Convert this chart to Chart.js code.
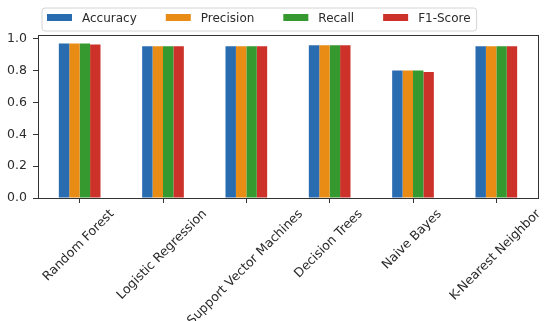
<!DOCTYPE html>
<html>
<head>
<meta charset="utf-8">
<script src="https://cdn.jsdelivr.net/npm/chart.js@4.4.1/dist/chart.umd.min.js"></script>
<style>
  html, body { margin: 0; padding: 0; background: #ffffff; }
  #wrap { width: 550px; height: 321px; position: relative; }
</style>
</head>
<body>
<div id="wrap"><canvas id="c" width="550" height="321"></canvas></div>
<script>
const categories = ['Random Forest', 'Logistic Regression', 'Support Vector Machines', 'Decision Trees', 'Naive Bayes', 'K-Nearest Neighbor'];
const seriesNames = ['Accuracy', 'Precision', 'Recall', 'F1-Score'];
const accuracy  = [0.972, 0.955, 0.955, 0.960, 0.802, 0.955];
const precision = [0.972, 0.955, 0.955, 0.960, 0.802, 0.955];
const recall    = [0.972, 0.955, 0.955, 0.960, 0.802, 0.955];
const f1Score   = [0.966, 0.955, 0.955, 0.960, 0.793, 0.955];
const yTicks = [0.0, 0.2, 0.4, 0.6, 0.8, 1.0];

const colors = ['#2a6cb0', '#e98c16', '#36992f', '#cc3229'];
const FONT = '"DejaVu Sans", sans-serif';
const TEXT = '#2b2b2b';

const series = [accuracy, precision, recall, f1Score];

const framePlugin = {
  id: 'frame',
  afterDraw(chart) {
    const ctx = chart.ctx;
    const a = chart.chartArea;
    ctx.save();
    ctx.strokeStyle = '#333333';
    ctx.lineWidth = 1;
    ctx.strokeRect(Math.round(a.left) + 0.5, Math.round(a.top) + 0.5,
                   Math.round(a.right - a.left), Math.round(a.bottom - a.top));

    // rotated x tick labels, centered on tick (matplotlib style)
    const xs = chart.scales.x;
    ctx.font = '12.6px ' + FONT;
    ctx.fillStyle = TEXT;
    ctx.textAlign = 'center';
    ctx.textBaseline = 'middle';
    const top = a.bottom + 9;
    const h = 14;
    categories.forEach((lab, i) => {
      const x = xs.getPixelForTick(i) - 1;
      const w = ctx.measureText(lab).width;
      const W = (w + h) * Math.SQRT1_2;
      ctx.save();
      ctx.translate(x, top + W / 2);
      ctx.rotate(-Math.PI / 4);
      ctx.fillText(lab, 0, 0);
      ctx.restore();
    });

    // legend with frame
    ctx.font = '12px ' + FONT;
    const sw = 25, gap = 10, spacing = 29, pad = 5;
    let x = 42 + pad;
    const items = chart.data.datasets.map(d => ({ label: d.label, color: d.backgroundColor }));
    let total = pad;
    items.forEach((it, i) => {
      total += sw + gap + ctx.measureText(it.label).width + (i < items.length - 1 ? spacing : 0);
    });
    total += pad + 1;
    const fx = 42, fy = 8, fh = 23, r = 3;
    ctx.beginPath();
    ctx.moveTo(fx + r, fy);
    ctx.lineTo(fx + total - r, fy);
    ctx.quadraticCurveTo(fx + total, fy, fx + total, fy + r);
    ctx.lineTo(fx + total, fy + fh - r);
    ctx.quadraticCurveTo(fx + total, fy + fh, fx + total - r, fy + fh);
    ctx.lineTo(fx + r, fy + fh);
    ctx.quadraticCurveTo(fx, fy + fh, fx, fy + fh - r);
    ctx.lineTo(fx, fy + r);
    ctx.quadraticCurveTo(fx, fy, fx + r, fy);
    ctx.closePath();
    ctx.fillStyle = 'rgba(255,255,255,0.8)';
    ctx.fill();
    ctx.strokeStyle = '#d4d4d4';
    ctx.lineWidth = 1;
    ctx.stroke();
    ctx.textAlign = 'left';
    ctx.textBaseline = 'middle';
    items.forEach(it => {
      ctx.fillStyle = it.color;
      ctx.fillRect(x, 14, sw, 7);
      ctx.fillStyle = TEXT;
      ctx.fillText(it.label, x + sw + gap, 18.5);
      x += sw + gap + ctx.measureText(it.label).width + spacing;
    });
    ctx.restore();
  }
};

new Chart(document.getElementById('c'), {
  type: 'bar',
  data: {
    labels: categories,
    datasets: seriesNames.map((name, i) => ({
      label: name,
      data: series[i],
      backgroundColor: colors[i],
      borderWidth: 0,
      categoryPercentage: 0.5,
      barPercentage: 1.0
    }))
  },
  options: {
    responsive: false,
    animation: false,
    devicePixelRatio: 1,
    layout: { padding: { top: 35, right: 12, left: 0, bottom: 0 } },
    plugins: {
      legend: { display: false },
      tooltip: { enabled: false }
    },
    scales: {
      x: {
        offset: true,
        grid: { display: true, offset: false, drawOnChartArea: false, drawTicks: true, tickLength: 5, color: '#333333' },
        border: { display: true, color: '#333333' },
        ticks: { display: false },
        afterFit(scale) { scale.height = 123; }
      },
      y: {
        min: 0,
        max: 1.025,
        grid: { display: true, drawOnChartArea: false, drawTicks: true, tickLength: 5, color: '#333333' },
        border: { display: true, color: '#333333' },
        ticks: {
          padding: 6,
          color: TEXT,
          font: { family: FONT, size: 12.5 },
          callback: v => Number(v).toFixed(1)
        },
        afterBuildTicks(scale) { scale.ticks = yTicks.map(v => ({ value: v })); },
        afterFit(scale) { scale.width = 38; }
      }
    }
  },
  plugins: [framePlugin]
});
</script>
</body>
</html>
